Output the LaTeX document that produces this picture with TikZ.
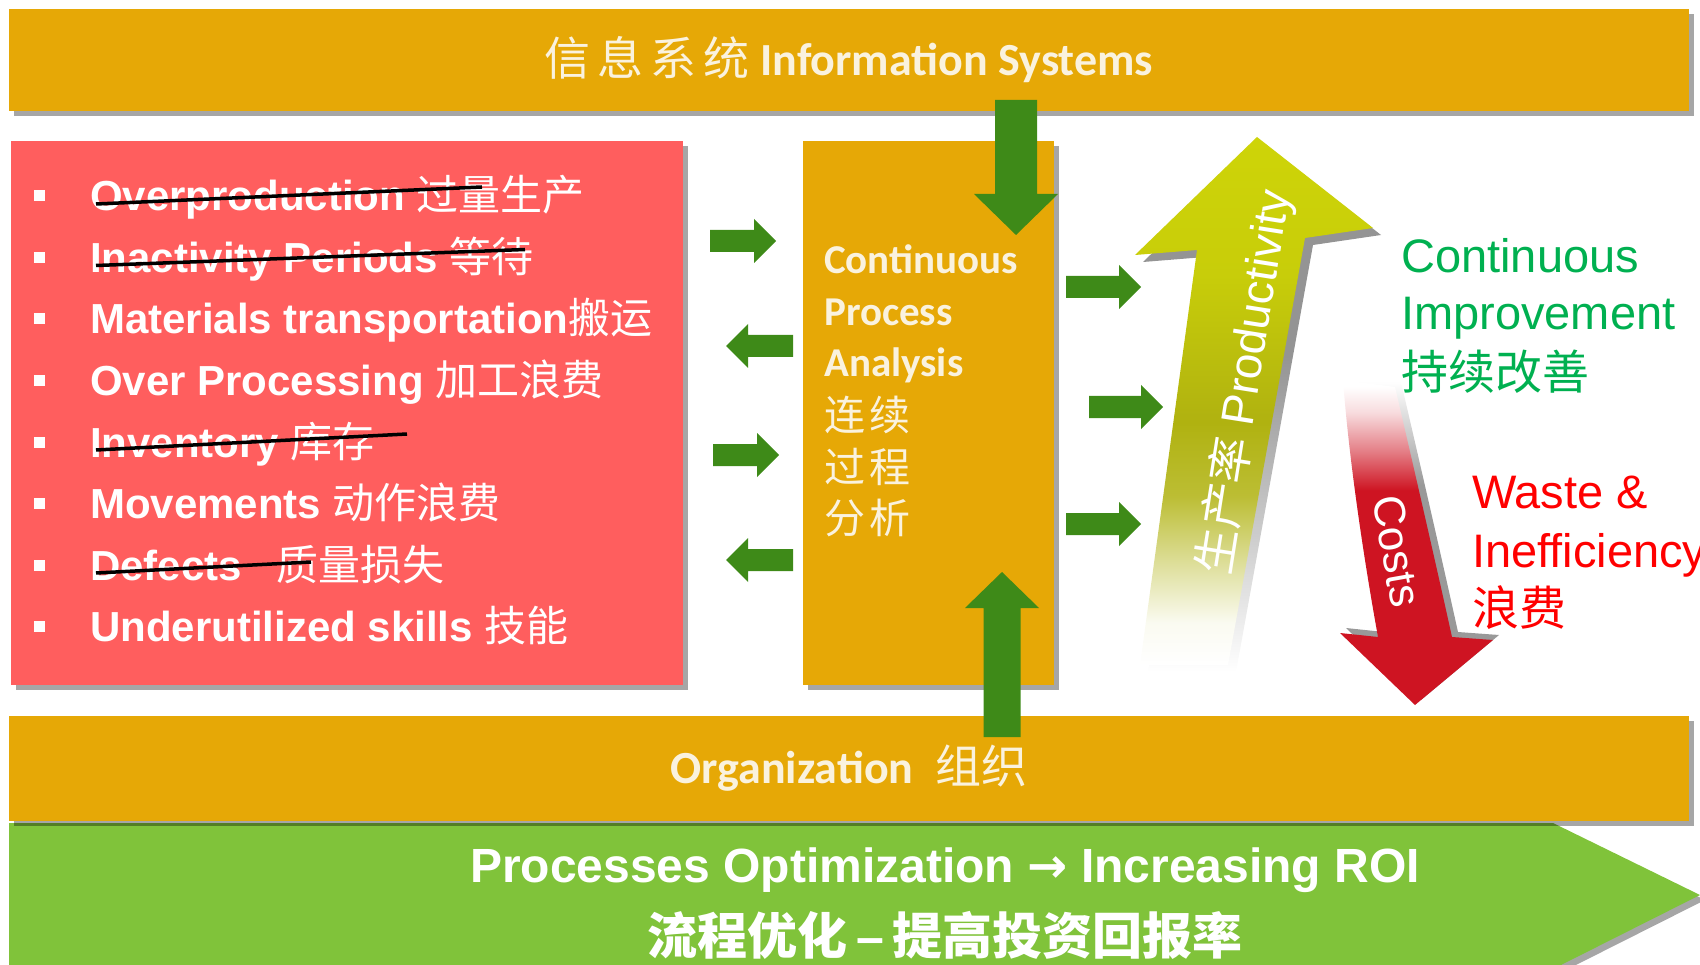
\documentclass[tikz,border=0pt]{standalone}
\usepackage{fontspec}
\setmainfont{Liberation Sans}
\newfontfamily\calfont{Carlito}
\newfontfamily\zh{Noto Sans CJK SC}
\newfontfamily\symfont{DejaVu Sans}
\usetikzlibrary{shadows,calc}

\definecolor{barorange}{RGB}{230,168,6}
\definecolor{wastered}{RGB}{255,94,94}
\definecolor{arrowgreen}{RGB}{62,138,24}
\definecolor{roigreen}{RGB}{128,195,58}
\definecolor{gaingreen}{RGB}{0,176,80}
\definecolor{lossred}{RGB}{255,0,0}
\definecolor{cream}{RGB}{250,242,222}
\definecolor{prodtop}{RGB}{206,212,8}
\definecolor{prodmid}{RGB}{176,178,16}
\definecolor{costred}{RGB}{206,20,34}

\pgfdeclareverticalshading{prodfade}{100bp}{color(0bp)=(white); color(25bp)=(white); color(29bp)=(white!94!prodmid); color(35bp)=(white!55!prodmid); color(41bp)=(prodmid!85!white); color(48bp)=(prodmid); color(62bp)=(prodtop!80!prodmid); color(75bp)=(prodtop); color(100bp)=(prodtop)}
\pgfdeclareverticalshading{prodshadow}{100bp}{color(0bp)=(white); color(25bp)=(white); color(38bp)=(black!20); color(55bp)=(black!42); color(100bp)=(black!42)}
\pgfdeclareverticalshading{costfade}{100bp}{color(0bp)=(costred); color(58bp)=(costred); color(64bp)=(costred!55!white); color(70bp)=(costred!15!white); color(74bp)=(white); color(100bp)=(white)}
\pgfdeclareverticalshading{costshadow}{100bp}{color(0bp)=(black!40); color(58bp)=(black!40); color(68bp)=(black!15); color(74bp)=(white); color(100bp)=(white)}

\newcommand{\cn}[1]{{\zh\mdseries#1}}
\newcommand{\sqbullet}{\raisebox{9.5pt}{\rule{11pt}{11pt}}\hspace{45pt}}
\newcommand{\blockarrow}[7]{%
  \fill[arrowgreen, shift={(#1,#2)}, rotate=#3]
    (0,-#5) -- (#4-#7,-#5) -- (#4-#7,-#6) -- (#4,0) -- (#4-#7,#6) -- (#4-#7,#5) -- (0,#5) -- cycle;}

\tikzset{
  boxshadow/.style={drop shadow={shadow xshift=5pt,shadow yshift=-5pt,opacity=0.35,fill=black}},
  bar/.style={fill=barorange, boxshadow, minimum width=1680pt, inner sep=0pt, text=cream,
    font=\calfont\bfseries\fontsize{46}{55}\selectfont},
  wastebox/.style={fill=wastered, boxshadow, minimum width=672pt, minimum height=544pt},
  cpabox/.style={fill=barorange, boxshadow, minimum width=251pt, minimum height=544pt},
  waste/.style={anchor=base west, inner sep=0pt, text=white, font=\bfseries\fontsize{42}{50}\selectfont},
  cpa/.style={anchor=base west, inner sep=0pt, text=cream, font=\calfont\bfseries\fontsize{41}{50}\selectfont},
  strike/.style={line width=3.5pt, black},
  gain/.style={anchor=base west, inner sep=0pt, text=gaingreen, font=\fontsize{47}{56}\selectfont},
  loss/.style={anchor=base west, inner sep=0pt, text=lossred, font=\fontsize{47}{56}\selectfont},
  roi/.style={anchor=base, inner sep=0pt, text=white, font=\bfseries\fontsize{48}{56}\selectfont}
}

\begin{document}
\begin{tikzpicture}[x=1pt,y=-1pt]
  \useasboundingbox (0,0) rectangle (1700,965);
  \fill[roigreen, boxshadow] (9,823) -- (1553,823) -- (1700,895) -- (1557,967) -- (9,967) -- cycle;
  \node[roi] (roi1) at (945,882) {Processes Optimization {\symfont\bfseries →} Increasing ROI};
  \node[roi, font=\zh\bfseries\fontsize{50}{58}\selectfont] (roi2) at (945,954) {流程优化\,{\rmfamily –}\,提高投资回报率};
  \node[bar, minimum height=105pt] (orga) at (849,768.5) {Organization\hspace{22pt}\cn{组织}};
  \node[bar, minimum height=102pt] (infosys) at (849,60) {\cn{信\hspace{7pt}息\hspace{7pt}系\hspace{7pt}统} Information Systems};
  \node[wastebox] (wastes) at (347,413) {};
  \node[cpabox] (cpa) at (928.5,413) {};

  \node[waste] (w1) at (34,211) {\sqbullet Overproduction \cn{过量生产}};
  \node[waste] (w2) at (34,272.5) {\sqbullet Inactivity Periods \cn{等待}};
  \node[waste] (w3) at (34,334) {\sqbullet Materials transportation\cn{搬运}};
  \node[waste] (w4) at (34,395.5) {\sqbullet Over Processing \cn{加工浪费}};
  \node[waste] (w5) at (34,457) {\sqbullet Inventory \cn{库存}};
  \node[waste] (w6) at (34,518.5) {\sqbullet Movements \cn{动作浪费}};
  \node[waste] (w7) at (34,580) {\sqbullet Defects\hspace{35pt}\cn{质量损失}};
  \node[waste] (w8) at (34,641.5) {\sqbullet Underutilized skills \cn{技能}};
  \draw[strike] ($(w1.base west)+(62,-7)$) -- ++(386,-17);
  \draw[strike] ($(w2.base west)+(62,-7)$) -- ++(429,-16);
  \draw[strike] ($(w5.base west)+(62,-7)$) -- ++(311,-16);
  \draw[strike] ($(w7.base west)+(62,-7)$) -- ++(215,-11);

  \node[cpa] (cpa1) at (824,274) {Continuous};
  \node[cpa] (cpa2) at (824,326) {Process};
  \node[cpa] (cpa3) at (824,377) {Analysis};
  \node[cpa] (cpa4) at (824,430) {\cn{连\hspace{4pt}续}};
  \node[cpa] (cpa5) at (824,482) {\cn{过\hspace{4pt}程}};
  \node[cpa] (cpa6) at (824,533) {\cn{分\hspace{4pt}析}};

  \blockarrow{710}{241}{0}{66}{11}{22}{22}
  \blockarrow{793}{346}{180}{67}{11}{22}{22}
  \blockarrow{713}{455}{0}{66}{11}{22}{22}
  \blockarrow{793}{560}{180}{67}{11}{22}{22}
  \blockarrow{1066}{287}{0}{75}{11}{22}{22}
  \blockarrow{1089}{407}{0}{74}{11}{22}{22}
  \blockarrow{1066}{524}{0}{75}{11}{22}{22}
  \blockarrow{1016}{100}{-90}{135}{21}{42}{41}
  \blockarrow{1002}{737}{90}{165}{18.5}{37}{36}

  \shade[shading=prodshadow, shift={(8,7)}] (1257,137) -- (1373,228) -- (1305,238) -- (1228,665) -- (1140,665) -- (1197,250) -- (1135,255) -- cycle;
  \shade[shading=prodfade] (1257,137) -- (1373,228) -- (1305,238) -- (1228,665) -- (1140,665) -- (1197,250) -- (1135,255) -- cycle;
  \node[rotate=81, text=white, font=\fontsize{46}{54}\selectfont] (prod) at (1245,382) {\cn{生产率} Productivity};

  \shade[shading=costshadow, shift={(6,-5)}] (1343,380) -- (1395,387) .. controls (1412,460) and (1435,560) .. (1452,637) -- (1493,640) -- (1415,705) -- (1340,633) -- (1378,637) .. controls (1364,560) and (1349,460) .. (1343,380) -- cycle;
  \shade[shading=costfade] (1343,380) -- (1395,387) .. controls (1412,460) and (1435,560) .. (1452,637) -- (1493,640) -- (1415,705) -- (1340,633) -- (1378,637) .. controls (1364,560) and (1349,460) .. (1343,380) -- cycle;
  \node[rotate=-80, text=white, font=\fontsize{44}{52}\selectfont] (costs) at (1397,551) {Costs};

  \node[gain] (ci1) at (1401,273) {Continuous};
  \node[gain] (ci2) at (1401,330) {Improvement};
  \node[gain] (ci3) at (1401,389) {\cn{持续改善}};
  \node[loss] (wi1) at (1472,508) {Waste \&};
  \node[loss] (wi2) at (1472,567) {Inefficiency};
  \node[loss] (wi3) at (1472,625) {\cn{浪费}};
\end{tikzpicture}
\end{document}
